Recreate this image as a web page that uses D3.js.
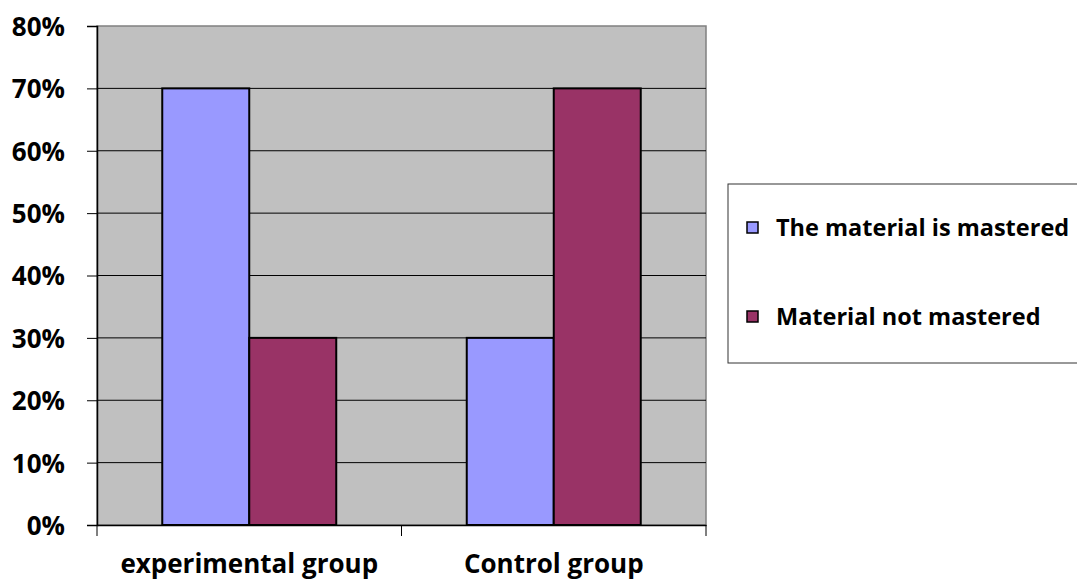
<!DOCTYPE html>
<html>
<head>
<meta charset="utf-8">
<script src="https://cdn.jsdelivr.net/npm/d3@7"></script>
<style>
  body { margin: 0; background: #fff; }
  text { font-family: "Open Sans", sans-serif; font-weight: bold; fill: #000; }
</style>
</head>
<body>
<svg id="chart"></svg>
<script>
// chart data
const groups = ["experimental group", "Control group"];
const seriesNames = ["The material is mastered", "Material not mastered"];
const mastered = [0.70, 0.30];
const notMastered = [0.30, 0.70];
const yTicks = [0, 0.1, 0.2, 0.3, 0.4, 0.5, 0.6, 0.7, 0.8];
const colors = ["#9999ff", "#993366"];

function drawChart() {
    const W = 1077, H = 579;
    const plot = { left: 97, top: 26, right: 706, bottom: 525 };

    const svg = d3.select('#chart')
                  .attr('width', W)
                  .attr('height', H);

    const xScale = d3.scaleBand()
                     .domain(groups)
                     .range([plot.left, plot.right])
                     .paddingInner(0)
                     .paddingOuter(0);

    // two bars sit in the middle of each category
    const inner = d3.scaleBand()
                    .domain(seriesNames)
                    .range([0, xScale.bandwidth()])
                    .paddingOuter(0.75)
                    .paddingInner(0);

    const yScale = d3.scaleLinear()
                     .domain([0, 0.8])
                     .range([plot.bottom, plot.top]);

    // plot background
    svg.append('rect')
       .attr('x', plot.left)
       .attr('y', plot.top)
       .attr('width', plot.right - plot.left)
       .attr('height', plot.bottom - plot.top)
       .attr('fill', '#c0c0c0')
       .attr('stroke', '#808080')
       .attr('stroke-width', 1.5);

    // gridlines
    svg.append('g')
       .selectAll('line')
       .data(yTicks.filter(d => d > 0 && d < 0.8))
       .enter()
       .append('line')
       .attr('x1', plot.left)
       .attr('x2', plot.right)
       .attr('y1', d => yScale(d))
       .attr('y2', d => yScale(d))
       .attr('stroke', '#000')
       .attr('stroke-width', 1);

    // bars
    const series = [mastered, notMastered];
    series.forEach((vals, si) => {
        svg.append('g')
           .selectAll('rect')
           .data(groups.map((g, i) => ({ group: g, value: vals[i] })))
           .enter()
           .append('rect')
           .attr('x', d => xScale(d.group) + inner(seriesNames[si]))
           .attr('y', d => yScale(d.value))
           .attr('width', inner.bandwidth())
           .attr('height', d => yScale(0) - yScale(d.value))
           .attr('fill', colors[si])
           .attr('stroke', '#000')
           .attr('stroke-width', 2);
    });

    // Y axis
    const yAxis = svg.append('g')
       .attr('transform', `translate(${plot.left},0)`)
       .call(d3.axisLeft(yScale)
           .tickValues(yTicks)
           .tickSize(10)
           .tickPadding(22)
           .tickFormat(d3.format('.0%')));
    yAxis.select('.domain').attr('stroke', '#000').attr('stroke-width', 1.5);
    yAxis.selectAll('line').attr('stroke', '#000');
    yAxis.selectAll('text')
         .attr('dy', '0.36em')
         .style('font-size', '26px')
         .style('font-family', '"Open Sans", sans-serif')
         .style('font-weight', 'bold')
         .attr('fill', '#000');

    // X axis (labels sit at the bottom edge, as in the original)
    const xAxis = svg.append('g')
       .attr('transform', `translate(0,${plot.bottom})`)
       .call(d3.axisBottom(xScale).tickSize(0).tickPadding(0));
    xAxis.select('.domain').attr('stroke', '#000').attr('stroke-width', 1.5);
    xAxis.selectAll('text')
         .attr('y', 48)
         .attr('dy', 0)
         .style('font-size', '26px')
         .style('font-family', '"Open Sans", sans-serif')
         .style('font-weight', 'bold')
         .attr('fill', '#000');

    // category separators below axis
    svg.append('g')
       .selectAll('line')
       .data([plot.left, xScale(groups[1]), plot.right])
       .enter()
       .append('line')
       .attr('x1', d => d)
       .attr('x2', d => d)
       .attr('y1', plot.bottom)
       .attr('y2', plot.bottom + 11)
       .attr('stroke', '#000')
       .attr('stroke-width', 1);

    // legend
    const legend = svg.append('g');
    legend.append('rect')
          .attr('x', 728)
          .attr('y', 184)
          .attr('width', 360)
          .attr('height', 179)
          .attr('fill', '#fff')
          .attr('stroke', '#333')
          .attr('stroke-width', 1);

    seriesNames.forEach((name, i) => {
        const cy = 228 + i * 89;
        legend.append('rect')
              .attr('x', 747)
              .attr('y', cy - 6)
              .attr('width', 11)
              .attr('height', 11)
              .attr('fill', colors[i])
              .attr('stroke', '#000')
              .attr('stroke-width', 1.5);
        legend.append('text')
              .attr('x', 776)
              .attr('y', cy)
              .attr('dy', '0.36em')
              .style('font-size', '23.5px')
              .text(name);
    });
}

document.addEventListener('DOMContentLoaded', () => {
    drawChart();
});
</script>
</body>
</html>
